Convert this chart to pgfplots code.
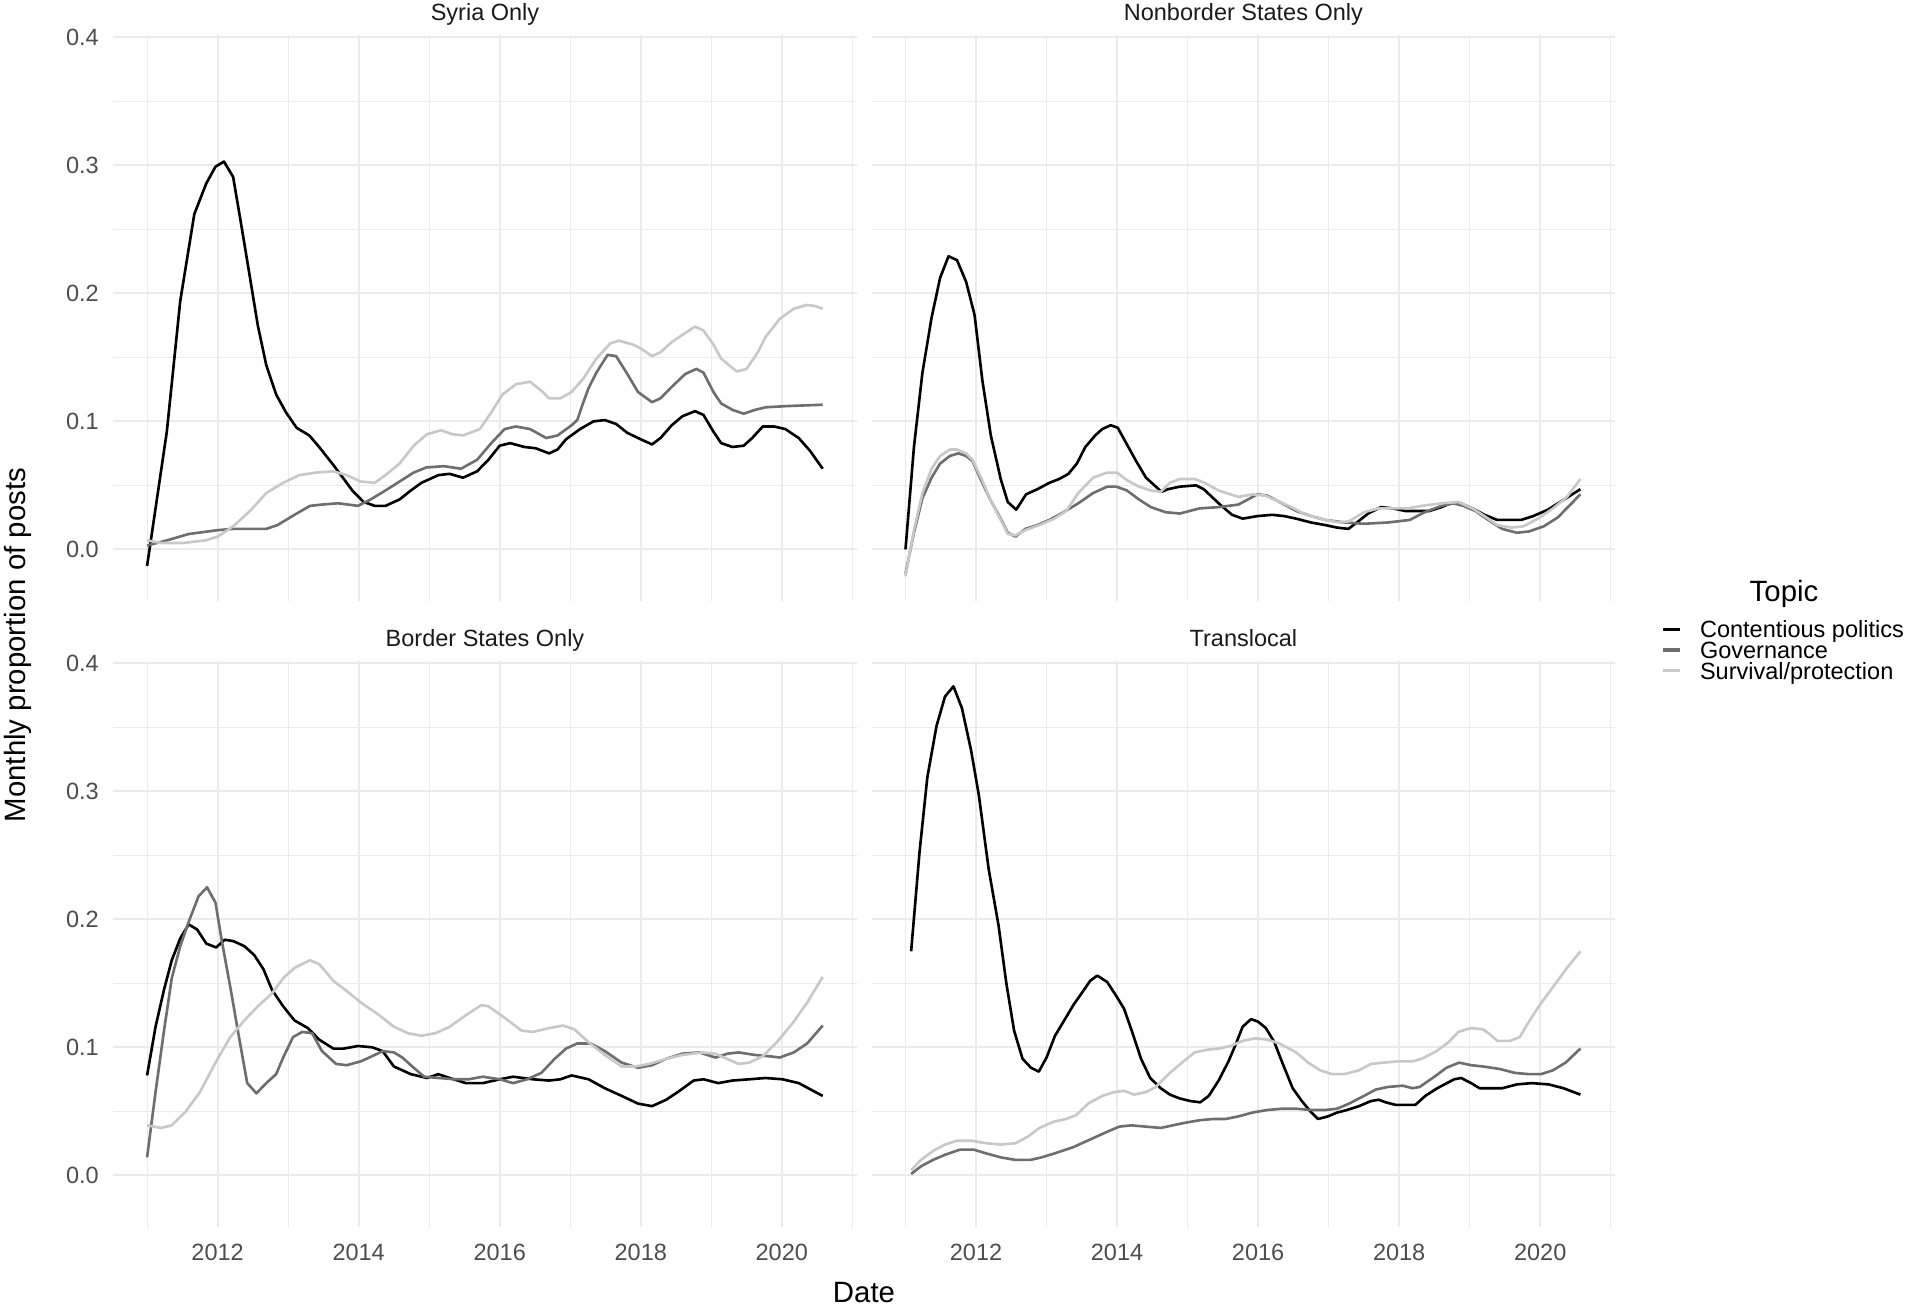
\documentclass[border=0pt]{standalone}
\usepackage{pgfplots}
\pgfplotsset{compat=1.18}
\usepackage{fontspec}
\setmainfont{Liberation Sans}

\definecolor{gridgray}{HTML}{EBEBEB}
\definecolor{tickgray}{HTML}{4D4D4D}
\definecolor{stripgray}{HTML}{1A1A1A}
\definecolor{cpcol}{HTML}{000000}
\definecolor{govcol}{HTML}{6E6E6E}
\definecolor{survcol}{HTML}{C8C8C8}

\newcommand\smallfont{\fontsize{9.4pt}{11pt}\selectfont}
\newcommand\bigfont{\fontsize{11.75pt}{14pt}\selectfont}

\pgfplotsset{
  facet/.style={
    scale only axis, width=297.36pt, height=226.4pt,
    anchor=south west,
    xmin=2010.521, xmax=2021.062, ymin=-0.0401, ymax=0.4021,
    axis line style={draw=none}, tick style={draw=none},
    major tick length=0pt, minor tick length=0pt,
    xtick={2012,2014,2016,2018,2020},
    minor xtick={2011,2013,2015,2017,2019,2021},
    ytick={0,0.1,0.2,0.3,0.4},
    minor ytick={0.05,0.15,0.25,0.35},
    grid=both,
    major grid style={draw=gridgray, line width=0.85pt},
    minor grid style={draw=gridgray, line width=0.45pt},
    tick label style={font=\smallfont, text=tickgray, inner sep=0pt},
    xticklabel style={anchor=base, yshift=-13.4pt},
    yticklabel style={anchor=east, xshift=-5.6pt},
    every axis title/.style={at={(0.5,1)}, anchor=base, yshift=5.5pt,
      font=\smallfont, text=stripgray, inner sep=0pt},
    clip=false,
  },
  xlabs/.style={xticklabels={2012,2014,2016,2018,2020}},
  nox/.style={xticklabels={}},
  ylabs/.style={yticklabels={0.0,0.1,0.2,0.3,0.4}},
  noy/.style={yticklabels={}},
  cp/.style={draw=cpcol, line width=1.05pt, line join=round, mark=none},
  gov/.style={draw=govcol, line width=1.05pt, line join=round, mark=none},
  surv/.style={draw=survcol, line width=1.05pt, line join=round, mark=none},
}

\begin{document}
\begin{tikzpicture}
\path[use as bounding box] (0,0) rectangle (762.8pt,522.8pt);

% ---------------- Syria Only ----------------
\begin{axis}[facet, nox, ylabs, at={(45.32pt,282.52pt)}, title={Syria Only}]
\addplot[cp] coordinates {(2011.00,-0.013)(2011.28,0.092)(2011.47,0.194)(2011.67,0.262)(2011.84,0.286)(2011.97,0.299)(2012.09,0.303)(2012.22,0.291)(2012.34,0.252)(2012.46,0.212)(2012.57,0.175)(2012.69,0.144)(2012.83,0.121)(2012.97,0.107)(2013.12,0.095)(2013.30,0.089)(2013.44,0.080)(2013.64,0.066)(2013.79,0.055)(2013.91,0.046)(2014.07,0.037)(2014.23,0.034)(2014.38,0.034)(2014.58,0.039)(2014.74,0.046)(2014.89,0.052)(2015.13,0.058)(2015.29,0.059)(2015.48,0.056)(2015.68,0.061)(2015.84,0.070)(2016.00,0.081)(2016.15,0.083)(2016.35,0.080)(2016.51,0.079)(2016.70,0.075)(2016.82,0.078)(2016.94,0.086)(2017.14,0.094)(2017.33,0.100)(2017.49,0.101)(2017.65,0.098)(2017.81,0.091)(2018.00,0.086)(2018.16,0.082)(2018.28,0.087)(2018.44,0.097)(2018.59,0.104)(2018.77,0.108)(2018.89,0.105)(2019.03,0.092)(2019.14,0.083)(2019.30,0.080)(2019.46,0.081)(2019.58,0.087)(2019.73,0.096)(2019.89,0.096)(2020.05,0.094)(2020.24,0.087)(2020.40,0.077)(2020.58,0.063)};
\addplot[gov] coordinates {(2011.00,0.003)(2011.28,0.007)(2011.59,0.012)(2012.00,0.015)(2012.22,0.016)(2012.69,0.016)(2012.85,0.019)(2013.09,0.027)(2013.31,0.034)(2013.48,0.035)(2013.71,0.036)(2013.99,0.034)(2014.17,0.039)(2014.38,0.046)(2014.58,0.053)(2014.78,0.060)(2014.96,0.064)(2015.21,0.065)(2015.45,0.063)(2015.68,0.070)(2015.88,0.083)(2016.07,0.094)(2016.23,0.096)(2016.43,0.094)(2016.66,0.087)(2016.82,0.089)(2017.02,0.097)(2017.10,0.101)(2017.18,0.114)(2017.26,0.126)(2017.37,0.138)(2017.53,0.152)(2017.65,0.151)(2017.81,0.137)(2017.96,0.123)(2018.16,0.115)(2018.28,0.118)(2018.44,0.127)(2018.63,0.137)(2018.79,0.141)(2018.89,0.138)(2019.03,0.123)(2019.14,0.114)(2019.30,0.109)(2019.46,0.106)(2019.62,0.109)(2019.77,0.111)(2020.09,0.112)(2020.58,0.113)};
\addplot[surv] coordinates {(2011.00,0.007)(2011.20,0.005)(2011.51,0.005)(2011.83,0.007)(2012.00,0.010)(2012.22,0.018)(2012.46,0.030)(2012.69,0.044)(2012.93,0.052)(2013.16,0.058)(2013.40,0.060)(2013.64,0.061)(2013.83,0.058)(2014.03,0.053)(2014.23,0.052)(2014.38,0.058)(2014.58,0.067)(2014.78,0.081)(2014.97,0.090)(2015.17,0.093)(2015.33,0.090)(2015.48,0.089)(2015.72,0.094)(2015.88,0.107)(2016.04,0.121)(2016.23,0.129)(2016.43,0.131)(2016.59,0.124)(2016.70,0.118)(2016.86,0.118)(2017.02,0.123)(2017.18,0.133)(2017.37,0.149)(2017.57,0.161)(2017.69,0.163)(2017.89,0.160)(2018.00,0.157)(2018.16,0.151)(2018.28,0.154)(2018.44,0.162)(2018.63,0.169)(2018.77,0.174)(2018.89,0.171)(2019.03,0.160)(2019.14,0.149)(2019.36,0.139)(2019.50,0.141)(2019.66,0.154)(2019.77,0.166)(2019.97,0.180)(2020.17,0.188)(2020.36,0.191)(2020.48,0.190)(2020.58,0.188)};
\end{axis}

% ---------------- Nonborder States Only ----------------
\begin{axis}[facet, nox, noy, at={(348.68pt,282.52pt)}, title={Nonborder States Only},
  legend style={at={(1.0628,-0.0871)}, anchor=west, draw=none, fill=none,
    inner sep=0pt, outer sep=0pt, row sep=1.58pt, column sep=7.4pt,
    font=\smallfont, text=black,
    nodes={inner sep=0pt, text height=6.73pt, text depth=0pt},
    cells={anchor=west}},
  legend image code/.code={\draw[#1, line width=1.3pt] (0pt,0pt) -- (6.6pt,0pt);}]
\addplot[cp] coordinates {(2011.00,0.000)(2011.12,0.080)(2011.24,0.138)(2011.37,0.181)(2011.49,0.212)(2011.61,0.229)(2011.73,0.226)(2011.86,0.209)(2011.98,0.183)(2012.09,0.132)(2012.21,0.089)(2012.35,0.055)(2012.45,0.037)(2012.57,0.031)(2012.71,0.043)(2012.87,0.047)(2013.04,0.052)(2013.18,0.055)(2013.31,0.059)(2013.43,0.067)(2013.55,0.080)(2013.69,0.089)(2013.79,0.094)(2013.91,0.097)(2014.01,0.095)(2014.13,0.083)(2014.27,0.069)(2014.41,0.056)(2014.55,0.049)(2014.63,0.045)(2014.72,0.047)(2014.89,0.049)(2015.12,0.050)(2015.23,0.047)(2015.44,0.036)(2015.63,0.027)(2015.78,0.024)(2015.99,0.026)(2016.20,0.027)(2016.37,0.026)(2016.54,0.024)(2016.75,0.021)(2016.95,0.019)(2017.12,0.017)(2017.28,0.016)(2017.40,0.021)(2017.56,0.028)(2017.74,0.033)(2017.91,0.032)(2018.09,0.030)(2018.26,0.030)(2018.43,0.030)(2018.60,0.033)(2018.73,0.036)(2018.87,0.036)(2019.04,0.032)(2019.21,0.027)(2019.39,0.023)(2019.56,0.023)(2019.73,0.023)(2019.90,0.026)(2020.11,0.031)(2020.31,0.038)(2020.57,0.047)};
\addlegendentry{Contentious politics}
\addplot[gov] coordinates {(2011.00,-0.019)(2011.12,0.013)(2011.24,0.040)(2011.37,0.056)(2011.49,0.067)(2011.63,0.073)(2011.75,0.075)(2011.86,0.073)(2011.95,0.069)(2012.08,0.053)(2012.21,0.038)(2012.35,0.024)(2012.45,0.013)(2012.56,0.010)(2012.70,0.016)(2012.87,0.019)(2013.04,0.023)(2013.24,0.029)(2013.45,0.036)(2013.66,0.044)(2013.86,0.049)(2013.99,0.049)(2014.14,0.046)(2014.31,0.039)(2014.48,0.033)(2014.69,0.029)(2014.89,0.028)(2015.03,0.030)(2015.17,0.032)(2015.44,0.033)(2015.72,0.035)(2015.99,0.043)(2016.13,0.042)(2016.34,0.036)(2016.54,0.030)(2016.75,0.026)(2016.95,0.023)(2017.23,0.021)(2017.50,0.020)(2017.84,0.021)(2018.15,0.023)(2018.36,0.029)(2018.60,0.034)(2018.77,0.036)(2018.91,0.034)(2019.08,0.030)(2019.29,0.022)(2019.46,0.016)(2019.67,0.013)(2019.84,0.014)(2020.05,0.018)(2020.25,0.025)(2020.57,0.043)};
\addlegendentry{Governance}
\addplot[surv] coordinates {(2011.00,-0.021)(2011.12,0.015)(2011.24,0.044)(2011.37,0.063)(2011.49,0.073)(2011.63,0.078)(2011.73,0.078)(2011.86,0.075)(2011.95,0.070)(2012.08,0.055)(2012.21,0.038)(2012.35,0.023)(2012.45,0.012)(2012.56,0.011)(2012.70,0.015)(2012.90,0.019)(2013.11,0.024)(2013.28,0.030)(2013.45,0.044)(2013.66,0.056)(2013.86,0.060)(2014.00,0.060)(2014.14,0.054)(2014.31,0.049)(2014.48,0.046)(2014.62,0.045)(2014.75,0.052)(2014.89,0.055)(2015.10,0.055)(2015.24,0.052)(2015.44,0.046)(2015.72,0.041)(2015.92,0.043)(2016.10,0.042)(2016.27,0.038)(2016.47,0.033)(2016.68,0.027)(2016.95,0.023)(2017.16,0.021)(2017.29,0.022)(2017.50,0.029)(2017.71,0.032)(2017.91,0.032)(2018.12,0.032)(2018.32,0.034)(2018.60,0.036)(2018.84,0.037)(2019.04,0.032)(2019.21,0.026)(2019.39,0.019)(2019.59,0.017)(2019.76,0.018)(2019.97,0.024)(2020.18,0.032)(2020.38,0.041)(2020.57,0.055)};
\addlegendentry{Survival/protection}
\end{axis}

% ---------------- Border States Only ----------------
\begin{axis}[facet, xlabs, ylabs, at={(45.32pt,32.16pt)}, title={Border States Only}]
\addplot[cp] coordinates {(2011.00,0.078)(2011.12,0.116)(2011.24,0.145)(2011.35,0.168)(2011.47,0.185)(2011.59,0.196)(2011.71,0.192)(2011.84,0.181)(2011.98,0.178)(2012.10,0.184)(2012.22,0.183)(2012.38,0.179)(2012.52,0.172)(2012.65,0.161)(2012.77,0.145)(2012.93,0.132)(2013.09,0.121)(2013.28,0.115)(2013.44,0.106)(2013.64,0.099)(2013.79,0.099)(2013.99,0.101)(2014.19,0.100)(2014.34,0.097)(2014.50,0.085)(2014.74,0.079)(2014.97,0.076)(2015.13,0.079)(2015.29,0.076)(2015.52,0.072)(2015.76,0.072)(2016.00,0.075)(2016.19,0.077)(2016.47,0.075)(2016.70,0.074)(2016.86,0.075)(2017.02,0.078)(2017.26,0.075)(2017.49,0.068)(2017.73,0.062)(2017.96,0.056)(2018.16,0.054)(2018.36,0.059)(2018.55,0.066)(2018.75,0.074)(2018.89,0.075)(2019.10,0.072)(2019.30,0.074)(2019.54,0.075)(2019.77,0.076)(2020.01,0.075)(2020.24,0.072)(2020.58,0.062)};
\addplot[gov] coordinates {(2011.00,0.014)(2011.12,0.065)(2011.24,0.113)(2011.35,0.154)(2011.47,0.179)(2011.59,0.198)(2011.73,0.218)(2011.85,0.225)(2011.97,0.213)(2012.06,0.183)(2012.18,0.147)(2012.30,0.109)(2012.42,0.072)(2012.55,0.064)(2012.69,0.072)(2012.83,0.079)(2012.93,0.092)(2013.07,0.108)(2013.20,0.112)(2013.34,0.111)(2013.48,0.097)(2013.68,0.087)(2013.83,0.086)(2014.03,0.089)(2014.19,0.093)(2014.34,0.097)(2014.50,0.096)(2014.62,0.092)(2014.78,0.084)(2014.93,0.077)(2015.13,0.076)(2015.37,0.075)(2015.56,0.075)(2015.76,0.077)(2016.00,0.075)(2016.19,0.072)(2016.39,0.075)(2016.59,0.080)(2016.78,0.091)(2016.94,0.099)(2017.10,0.103)(2017.29,0.103)(2017.49,0.097)(2017.73,0.088)(2017.96,0.084)(2018.16,0.086)(2018.36,0.091)(2018.59,0.095)(2018.83,0.096)(2019.06,0.092)(2019.23,0.095)(2019.39,0.096)(2019.62,0.094)(2019.82,0.093)(2019.97,0.092)(2020.17,0.096)(2020.36,0.103)(2020.58,0.117)};
\addplot[surv] coordinates {(2011.00,0.039)(2011.20,0.037)(2011.35,0.039)(2011.55,0.050)(2011.75,0.065)(2011.98,0.089)(2012.18,0.108)(2012.38,0.121)(2012.57,0.132)(2012.77,0.142)(2012.93,0.154)(2013.09,0.162)(2013.31,0.168)(2013.44,0.165)(2013.64,0.152)(2013.83,0.144)(2014.03,0.135)(2014.27,0.126)(2014.50,0.116)(2014.70,0.111)(2014.89,0.109)(2015.09,0.111)(2015.29,0.116)(2015.52,0.125)(2015.74,0.133)(2015.84,0.132)(2016.07,0.123)(2016.31,0.113)(2016.47,0.112)(2016.70,0.115)(2016.90,0.117)(2017.06,0.114)(2017.26,0.104)(2017.49,0.094)(2017.73,0.085)(2017.92,0.085)(2018.12,0.087)(2018.36,0.091)(2018.59,0.094)(2018.87,0.096)(2019.06,0.095)(2019.22,0.091)(2019.39,0.087)(2019.54,0.088)(2019.73,0.093)(2019.93,0.104)(2020.17,0.120)(2020.36,0.135)(2020.58,0.155)};
\end{axis}

% ---------------- Translocal ----------------
\begin{axis}[facet, xlabs, noy, at={(348.68pt,32.16pt)}, title={Translocal}]
\addplot[cp] coordinates {(2011.08,0.175)(2011.20,0.253)(2011.31,0.311)(2011.44,0.351)(2011.56,0.374)(2011.68,0.382)(2011.80,0.365)(2011.93,0.332)(2012.04,0.297)(2012.18,0.239)(2012.32,0.195)(2012.43,0.150)(2012.54,0.113)(2012.66,0.091)(2012.78,0.084)(2012.89,0.081)(2013.00,0.092)(2013.12,0.109)(2013.24,0.120)(2013.38,0.133)(2013.52,0.144)(2013.62,0.152)(2013.72,0.156)(2013.86,0.151)(2013.99,0.140)(2014.10,0.130)(2014.22,0.111)(2014.34,0.091)(2014.47,0.076)(2014.62,0.068)(2014.75,0.063)(2014.89,0.060)(2015.04,0.058)(2015.18,0.057)(2015.30,0.062)(2015.44,0.074)(2015.58,0.089)(2015.68,0.102)(2015.78,0.116)(2015.90,0.122)(2016.00,0.120)(2016.11,0.115)(2016.23,0.104)(2016.35,0.087)(2016.49,0.068)(2016.62,0.058)(2016.74,0.050)(2016.85,0.044)(2016.99,0.046)(2017.12,0.049)(2017.26,0.051)(2017.43,0.054)(2017.60,0.058)(2017.71,0.059)(2017.81,0.057)(2017.95,0.055)(2018.09,0.055)(2018.23,0.055)(2018.37,0.062)(2018.54,0.068)(2018.78,0.075)(2018.88,0.076)(2019.02,0.072)(2019.14,0.068)(2019.29,0.068)(2019.46,0.068)(2019.67,0.071)(2019.88,0.072)(2020.12,0.071)(2020.33,0.068)(2020.57,0.063)};
\addplot[gov] coordinates {(2011.08,0.001)(2011.22,0.007)(2011.39,0.012)(2011.56,0.016)(2011.77,0.020)(2011.97,0.020)(2012.15,0.017)(2012.35,0.014)(2012.56,0.012)(2012.77,0.012)(2012.93,0.014)(2013.11,0.017)(2013.38,0.022)(2013.66,0.029)(2013.86,0.034)(2014.03,0.038)(2014.20,0.039)(2014.41,0.038)(2014.62,0.037)(2014.79,0.039)(2014.96,0.041)(2015.17,0.043)(2015.37,0.044)(2015.54,0.044)(2015.72,0.046)(2015.92,0.049)(2016.13,0.051)(2016.34,0.052)(2016.54,0.052)(2016.74,0.051)(2016.95,0.051)(2017.12,0.052)(2017.29,0.056)(2017.50,0.062)(2017.67,0.067)(2017.84,0.069)(2018.05,0.070)(2018.19,0.068)(2018.29,0.069)(2018.50,0.077)(2018.67,0.084)(2018.85,0.088)(2019.02,0.086)(2019.19,0.085)(2019.43,0.083)(2019.64,0.080)(2019.84,0.079)(2020.01,0.079)(2020.18,0.082)(2020.36,0.088)(2020.57,0.099)};
\addplot[surv] coordinates {(2011.08,0.004)(2011.22,0.012)(2011.39,0.019)(2011.56,0.024)(2011.73,0.027)(2011.94,0.027)(2012.15,0.025)(2012.35,0.024)(2012.56,0.025)(2012.73,0.030)(2012.90,0.037)(2013.11,0.042)(2013.28,0.044)(2013.42,0.047)(2013.59,0.056)(2013.79,0.062)(2013.96,0.065)(2014.10,0.066)(2014.24,0.063)(2014.41,0.065)(2014.55,0.069)(2014.75,0.080)(2014.92,0.088)(2015.10,0.096)(2015.27,0.098)(2015.44,0.099)(2015.61,0.101)(2015.78,0.105)(2015.96,0.107)(2016.13,0.106)(2016.30,0.103)(2016.54,0.096)(2016.71,0.088)(2016.88,0.082)(2017.05,0.079)(2017.22,0.079)(2017.43,0.082)(2017.60,0.087)(2017.77,0.088)(2017.98,0.089)(2018.19,0.089)(2018.32,0.091)(2018.53,0.097)(2018.70,0.104)(2018.84,0.112)(2019.02,0.115)(2019.19,0.114)(2019.29,0.110)(2019.39,0.105)(2019.57,0.105)(2019.71,0.108)(2019.84,0.120)(2019.98,0.132)(2020.18,0.147)(2020.38,0.162)(2020.57,0.175)};
\end{axis}

% shared axis titles and legend heading
\node[font=\bigfont, rotate=90, anchor=base] at (10pt,264.8pt) {Monthly proportion of posts};
\node[font=\bigfont, anchor=base] at (345.6pt,2.0pt) {Date};
\node[font=\bigfont, anchor=base] at (713.6pt,282.0pt) {Topic};
\end{tikzpicture}
\end{document}
